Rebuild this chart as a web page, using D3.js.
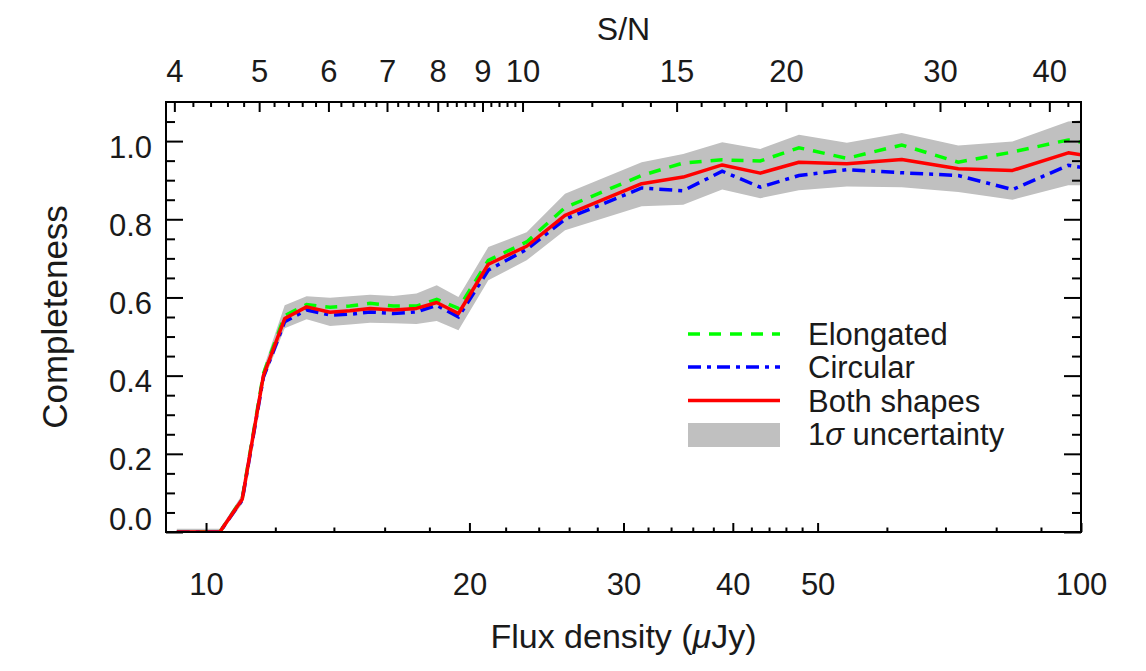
<!DOCTYPE html>
<html><head><meta charset="utf-8">
<script src="https://cdn.jsdelivr.net/npm/d3@7"></script>
<style>
body{margin:0;background:#fff;}
svg text{font-family:"Liberation Sans",Arial,Helvetica,sans-serif;fill:#1a1a1a;}
</style></head><body>
<svg id="chart" width="1146" height="671"></svg>
<script>
// ---- data ----
const flux = [9.26, 10.37, 11.0, 11.63, 12.3, 13.03, 13.86, 14.6, 15.4, 16.37, 17.4, 18.35, 19.43,
              21.02, 23.25, 25.72, 31.47, 35.1, 38.9, 43.0, 47.6, 54.0, 62.4, 72.4, 83.5, 96.7, 100];
const completenessBoth = [0, 0, 0.084, 0.400, 0.546, 0.576, 0.562, 0.566, 0.572, 0.568, 0.572, 0.587, 0.559,
              0.685, 0.731, 0.810, 0.891, 0.908, 0.939, 0.918, 0.946, 0.942, 0.953, 0.929, 0.925, 0.970, 0.965];
const completenessElongated = [0, 0, 0.086, 0.405, 0.553, 0.582, 0.575, 0.578, 0.585, 0.578, 0.578, 0.595, 0.572,
              0.695, 0.742, 0.830, 0.912, 0.944, 0.952, 0.949, 0.983, 0.956, 0.990, 0.946, 0.972, 1.003, 0.997];
const completenessCircular = [0, 0, 0.082, 0.396, 0.538, 0.568, 0.555, 0.557, 0.563, 0.559, 0.563, 0.580, 0.550,
              0.670, 0.723, 0.800, 0.880, 0.873, 0.923, 0.882, 0.912, 0.927, 0.919, 0.912, 0.876, 0.938, 0.933];
const sigmaLower = [-0.005, -0.005, 0.072, 0.385, 0.521, 0.544, 0.527, 0.531, 0.535, 0.534, 0.532, 0.540, 0.516,
              0.644, 0.695, 0.772, 0.833, 0.837, 0.876, 0.854, 0.874, 0.884, 0.882, 0.870, 0.850, 0.887, 0.887];
const sigmaUpper = [0.008, 0.008, 0.096, 0.418, 0.580, 0.603, 0.599, 0.603, 0.607, 0.604, 0.610, 0.631, 0.601,
              0.729, 0.767, 0.865, 0.946, 0.967, 0.997, 0.980, 1.016, 0.996, 1.021, 0.989, 0.999, 1.050, 1.053];

const fluxDomain = [9, 100];
const fluxPerSN = 2.3;            // S/N = flux / 2.3
const fluxMajorTicks = [10, 20, 30, 40, 50, 100];
const fluxMinorTicks = [12, 14, 16, 18, 22, 24, 26, 28, 32, 34, 36, 38, 42, 44, 46, 48, 60, 70, 80, 90];
const snMajorTicks = [4, 5, 6, 7, 8, 9, 10, 15, 20, 30, 40];
const snMinorTicks = [4.2, 4.4, 4.6, 4.8, 5.2, 5.4, 5.6, 5.8, 6.2, 6.4, 6.6, 6.8, 7.2, 7.4, 7.6, 7.8,
                      8.2, 8.4, 8.6, 8.8, 9.2, 9.4, 9.6, 9.8, 11, 12, 13, 14, 16, 17, 18, 19,
                      22, 24, 26, 28, 32, 34, 36, 38, 42];
const yDomain = [0, 1.1];
const yMajorTicks = [0, 0.2, 0.4, 0.6, 0.8, 1.0];
const yMinorTicks = [0.05, 0.1, 0.15, 0.25, 0.3, 0.35, 0.45, 0.5, 0.55, 0.65, 0.7, 0.75, 0.85, 0.9, 0.95, 1.05];
const legendLabels = ["Elongated", "Circular", "Both shapes", "uncertainty"];

// ---- layout ----
const M = {left: 166, right: 1081, top: 102, bottom: 532};
const svg = d3.select("#chart");
const x = d3.scaleLog().domain(fluxDomain).range([M.left, M.right]);
const xTop = d3.scaleLog().domain(fluxDomain.map(f => f / fluxPerSN)).range([M.left, M.right]);
const y = d3.scaleLinear().domain(yDomain).range([M.bottom, M.top]);

const rows = flux.map((f, i) => ({
  f, both: completenessBoth[i], elong: completenessElongated[i], circ: completenessCircular[i],
  lo: sigmaLower[i], hi: sigmaUpper[i]
}));

svg.append("defs").append("clipPath").attr("id", "plotclip").append("rect")
  .attr("x", M.left).attr("y", M.top).attr("width", M.right - M.left).attr("height", M.bottom - M.top);

const plot = svg.append("g").attr("clip-path", "url(#plotclip)");
plot.append("path").datum(rows)
  .attr("d", d3.area().x(d => x(d.f)).y0(d => y(d.lo)).y1(d => y(d.hi)))
  .attr("fill", "#c0c0c0");
const line = key => d3.line().x(d => x(d.f)).y(d => y(d[key]));
plot.append("path").datum(rows).attr("d", line("elong"))
  .attr("fill", "none").attr("stroke", "#00ff00").attr("stroke-width", 3.5).attr("stroke-dasharray", "12,9");
plot.append("path").datum(rows).attr("d", line("circ"))
  .attr("fill", "none").attr("stroke", "#0000ff").attr("stroke-width", 3.5).attr("stroke-dasharray", "13,6,4,6");
plot.append("path").datum(rows).attr("d", line("both"))
  .attr("fill", "none").attr("stroke", "#ff0000").attr("stroke-width", 3.5).attr("stroke-linejoin", "round");

// ---- axes ----
function style(sel, fs) {
  sel.select(".domain").remove();
  sel.attr("color", "#000").attr("font-size", fs || 31);
  sel.selectAll(".tick line").attr("stroke-width", 2);
}
const gB = svg.append("g").attr("transform", `translate(0,${M.bottom})`)
  .call(d3.axisBottom(x).tickValues(fluxMajorTicks).tickFormat(d3.format("d")).tickSizeInner(-9).tickSizeOuter(0).tickPadding(41));
style(gB);
const gBm = svg.append("g").attr("transform", `translate(0,${M.bottom})`)
  .call(d3.axisBottom(x).tickValues(fluxMinorTicks).tickFormat("").tickSizeInner(-4.5).tickSizeOuter(0));
style(gBm);

const gT = svg.append("g").attr("transform", `translate(0,${M.top})`)
  .call(d3.axisTop(xTop).tickValues(snMajorTicks).tickFormat(d3.format("d")).tickSizeInner(-10).tickSizeOuter(0).tickPadding(20));
style(gT);
const gTm = svg.append("g").attr("transform", `translate(0,${M.top})`)
  .call(d3.axisTop(xTop).tickValues(snMinorTicks).tickFormat("").tickSizeInner(-5).tickSizeOuter(0));
style(gTm);

const gL = svg.append("g").attr("transform", `translate(${M.left},0)`)
  .call(d3.axisLeft(y).tickValues(yMajorTicks).tickFormat(d3.format(".1f")).tickSizeInner(-17).tickSizeOuter(0).tickPadding(14));
style(gL);
gL.selectAll(".tick text").attr("dy", d => d === 0 ? "-0.07em" : "0.52em");
const gLm = svg.append("g").attr("transform", `translate(${M.left},0)`)
  .call(d3.axisLeft(y).tickValues(yMinorTicks).tickFormat("").tickSizeInner(-9).tickSizeOuter(0));
style(gLm);

const gR = svg.append("g").attr("transform", `translate(${M.right},0)`)
  .call(d3.axisRight(y).tickValues(yMajorTicks).tickFormat("").tickSizeInner(-17).tickSizeOuter(0));
style(gR);
const gRm = svg.append("g").attr("transform", `translate(${M.right},0)`)
  .call(d3.axisRight(y).tickValues(yMinorTicks).tickFormat("").tickSizeInner(-9).tickSizeOuter(0));
style(gRm);

svg.append("rect").attr("x", M.left).attr("y", M.top)
  .attr("width", M.right - M.left).attr("height", M.bottom - M.top)
  .attr("fill", "none").attr("stroke", "#000").attr("stroke-width", 2);

// ---- titles ----
const cx = (M.left + M.right) / 2;
svg.append("text").attr("x", cx).attr("y", 40).attr("text-anchor", "middle").attr("font-size", 32).text("S/N");
const bt = svg.append("text").attr("x", cx).attr("y", 648).attr("text-anchor", "middle").attr("font-size", 34);
bt.append("tspan").text("Flux density (");
bt.append("tspan").attr("font-style", "italic").text("μ");
bt.append("tspan").text("Jy)");
svg.append("text").attr("transform", `translate(67,${(M.top + M.bottom) / 2}) rotate(-90)`)
  .attr("text-anchor", "middle").attr("font-size", 35).text("Completeness");

// ---- legend ----
const lg = svg.append("g");
const lx0 = 688, lx1 = 780, tx = 808;
const rowsY = [334, 367, 400.5];
lg.append("line").attr("x1", lx0).attr("x2", lx1).attr("y1", rowsY[0]).attr("y2", rowsY[0])
  .attr("stroke", "#00ff00").attr("stroke-width", 3.5).attr("stroke-dasharray", "12,9");
lg.append("line").attr("x1", lx0).attr("x2", lx1).attr("y1", rowsY[1]).attr("y2", rowsY[1])
  .attr("stroke", "#0000ff").attr("stroke-width", 3.5).attr("stroke-dasharray", "13,6,4,6");
lg.append("line").attr("x1", lx0).attr("x2", lx1).attr("y1", rowsY[2]).attr("y2", rowsY[2])
  .attr("stroke", "#ff0000").attr("stroke-width", 3.5);
lg.append("rect").attr("x", lx0).attr("y", 423).attr("width", lx1 - lx0).attr("height", 24).attr("fill", "#c0c0c0");
[345, 378, 411.5].forEach((by, i) => {
  lg.append("text").attr("x", tx).attr("y", by).attr("font-size", 31).text(legendLabels[i]);
});
const lt = lg.append("text").attr("x", tx).attr("y", 445).attr("font-size", 31);
lt.append("tspan").text("1");
lt.append("tspan").attr("font-style", "italic").text("σ");
lt.append("tspan").text(" " + legendLabels[3]);
</script>
</body></html>
